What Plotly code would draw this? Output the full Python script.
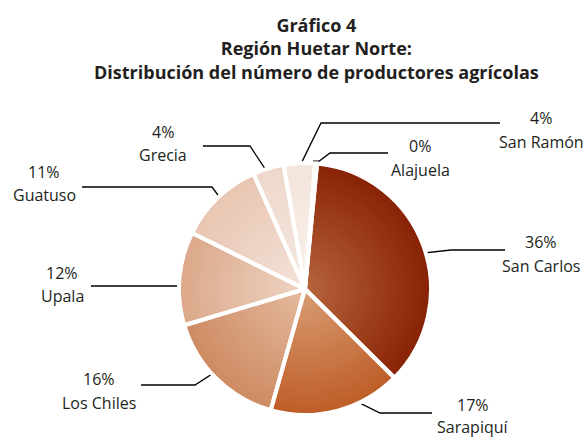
import math
import plotly.graph_objects as go

# ---- data ----
regions = ["Alajuela", "San Carlos", "Sarapiquí", "Los Chiles", "Upala", "Guatuso", "Grecia", "San Ramón"]
shares = [0.25, 36, 17, 16, 12, 11, 4, 4]
pct_labels = ["0%", "36%", "17%", "16%", "12%", "11%", "4%", "4%"]
inner_colors = ["#F9F1EC", "#B6643C", "#D99C74", "#E4BA9F", "#EDD3C3", "#F3E2D8", "#F4E7DF", "#F9F0EB"]
outer_colors = ["#F5E8E0", "#8A2306", "#BE5E28", "#CE8C63", "#DCA98B", "#E8C6B2", "#EED8CB", "#F4E5DC"]

W, H = 584, 439
CX, CY, R = 305, 289, 126
START = 4.6  # degrees clockwise from 12 o'clock

# label layout: (marker radius fraction, elbow point, line end, text x, pct y, name y)
label_layout = {
    "Alajuela":   (1.00, (330, 153), (388, 153), 420, 146, 170),
    "San Carlos": (0.77, (451, 250), (505, 250), 541, 242, 266),
    "Sarapiquí":  (0.82, (380, 413), (432, 413), 473, 405, 427),
    "Los Chiles": (0.76, (195, 385), (141, 385), 99, 379, 403),
    "Upala":      (0.91, (190, 286), (91, 286), 62, 273, 296),
    "Guatuso":    (0.87, (212, 187), (82, 187), 44, 172, 195),
    "Grecia":     (0.92, (250, 146), (203, 146), 163, 132, 155),
    "San Ramón":  (0.97, (321, 123), (500, 123), 541, 118, 142),
}

FONT = "Open Sans"
TXT = "#231F20"


def hex2rgb(h):
    h = h.lstrip("#")
    return tuple(int(h[i:i + 2], 16) for i in (0, 2, 4))


def lerp(c1, c2, t):
    a, b = hex2rgb(c1), hex2rgb(c2)
    return "rgb(%d,%d,%d)" % tuple(round(a[i] + (b[i] - a[i]) * t) for i in range(3))


def dom(r):
    return dict(x=[(CX - r) / W, (CX + r) / W], y=[1 - (CY + r) / H, 1 - (CY - r) / H])


fig = go.Figure()

# radial shading: stacked full pies from outer to inner
N = 32
for k in range(N):
    r = R * (1 - k / N)
    t = 1 - k / (N - 1)  # 1 at edge, 0 at center
    cols = [lerp(i, o, t) for i, o in zip(inner_colors, outer_colors)]
    fig.add_trace(go.Pie(
        labels=regions, values=shares, sort=False, direction="clockwise",
        rotation=START, textinfo="none", hoverinfo="skip",
        marker=dict(colors=cols, line=dict(width=0)),
        domain=dom(r), showlegend=False,
    ))

# white separators on top
fig.add_trace(go.Pie(
    labels=regions, values=shares, sort=False, direction="clockwise",
    rotation=START, textinfo="none", hoverinfo="label+percent",
    marker=dict(colors=["rgba(0,0,0,0)"] * len(regions), line=dict(color="white", width=4)),
    domain=dom(R), showlegend=False,
))

total = sum(shares)
cum = 0.0
annotations = []
for name, v, pct in zip(regions, shares, pct_labels):
    mid = START + (cum + v / 2) / total * 360
    cum += v
    rf, elbow, end, tx, py, ny = label_layout[name]
    a = math.radians(mid)
    mx = CX + rf * R * math.sin(a)
    my = CY - rf * R * math.cos(a)
    fig.add_trace(go.Scatter(
        x=[mx, elbow[0], end[0]], y=[my, elbow[1], end[1]], mode="lines",
        line=dict(color="black", width=1.3), hoverinfo="skip", showlegend=False))
    fig.add_trace(go.Scatter(
        x=[mx], y=[my], mode="markers",
        marker=dict(symbol="square", size=6, color="black"),
        hoverinfo="skip", showlegend=False))
    for txt, yy in ((pct, py), (name, ny)):
        annotations.append(dict(
            x=tx, y=yy, xref="x", yref="y", text=txt, showarrow=False,
            font=dict(family=FONT, size=16, color=TXT),
            xanchor="center", yanchor="middle"))

annotations.append(dict(
    x=316, y=48, xref="x", yref="y",
    text="<b>Gráfico 4</b><br><b>Región Huetar Norte:</b><br><b>Distribución del número de productores agrícolas</b>",
    showarrow=False, font=dict(family=FONT, size=18, color=TXT), align="center",
    xanchor="center", yanchor="middle"))

fig.update_layout(
    width=W, height=H, margin=dict(l=0, r=0, t=0, b=0),
    paper_bgcolor="white", plot_bgcolor="rgba(0,0,0,0)",
    xaxis=dict(range=[0, W], visible=False, fixedrange=True, domain=[0, 1]),
    yaxis=dict(range=[H, 0], visible=False, fixedrange=True, domain=[0, 1]),
    annotations=annotations,
)

fig.write_html("out.html", config={"displayModeBar": False},
               post_script="document.body.style.margin='0';document.body.style.overflow='hidden';")
